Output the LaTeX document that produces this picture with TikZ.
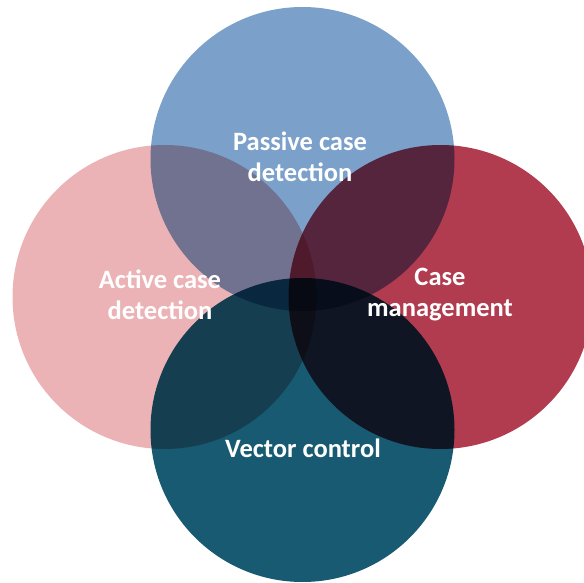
\documentclass[tikz,border=0pt]{standalone}
\usepackage{fontspec}
\setmainfont{Carlito}
\usepackage{tikz}

\definecolor{passiveblue}{HTML}{7BA1CA}
\definecolor{activepink}{HTML}{EBB3B6}
\definecolor{caseRed}{HTML}{B13C4F}
\definecolor{vectorteal}{HTML}{175A72}

\tikzset{
    area/.style={circle, minimum size=304pt, inner sep=0pt, draw=none},
    label text/.style={text=white, font=\bfseries\fontsize{26.5}{31}\selectfont, align=center}
}

\begin{document}
\begin{tikzpicture}[x=1pt, y=1pt]
    \clip (0,0) rectangle (584,582);
    % Overlapping areas (multiplied like the original)
    \begin{scope}[blend group=multiply]
        \node[area, fill=activepink] (active) at (164.5,285) {};
        \node[area, fill=caseRed] (case) at (440.5,285) {};
        \node[area, fill=passiveblue] (passive) at (302.5,423) {};
        \node[area, fill=vectorteal] (vector) at (302.5,152) {};
    \end{scope}

    % Labels
    \node[label text] (passivetxt) at (300,425) {Passive case\\detection};
    \node[label text] (activetxt) at (160,287) {Active case\\detection};
    \node[label text] (casetxt) at (440,287) {Case\\management};
    \node[label text] (vectortxt) at (303,134) {Vector control};
\end{tikzpicture}
\end{document}
